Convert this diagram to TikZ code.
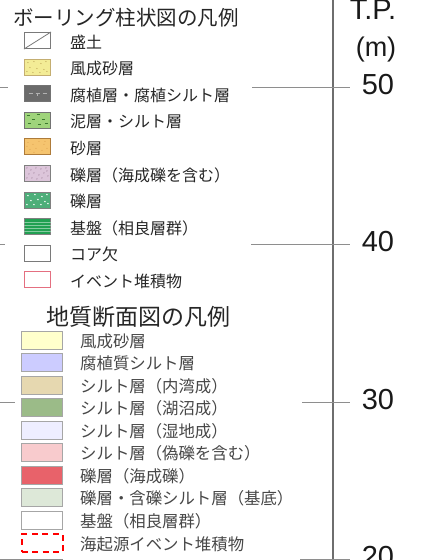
\documentclass[tikz,border=0pt]{standalone}
\usepackage{fontspec}
\setmainfont{Noto Sans CJK JP}
\newfontfamily\axisfont{Liberation Sans}
\usepackage{xcolor}
\usepackage{tikz}

\definecolor{axisgray}{HTML}{6E6E6E}
\definecolor{tickgray}{HTML}{8E8E8E}
\definecolor{textgray}{HTML}{262626}
\definecolor{swgray}{HTML}{7A7A7A}
% boring log colours
\definecolor{fusaY}{HTML}{F3EC96}
\definecolor{fusaDot}{HTML}{B59A4E}
\definecolor{fushokuG}{HTML}{6B6B6B}
\definecolor{deiG}{HTML}{9FD47B}
\definecolor{deiDash}{HTML}{3C7A2E}
\definecolor{saO}{HTML}{F5C46F}
\definecolor{saDot}{HTML}{D99A48}
\definecolor{rekiP}{HTML}{DCC5DA}
\definecolor{rekiPDot}{HTML}{8F6F8C}
\definecolor{rekiG}{HTML}{4DAE79}
\definecolor{kibanG}{HTML}{21A052}
\definecolor{eventR}{HTML}{E46F80}
% section colours
\definecolor{secFusa}{HTML}{FFFFCC}
\definecolor{secFushoku}{HTML}{CCCCFF}
\definecolor{secNaiwan}{HTML}{E6D8B0}
\definecolor{secKosho}{HTML}{9BBB88}
\definecolor{secShitchi}{HTML}{EEEEFF}
\definecolor{secGireki}{HTML}{F8CBCD}
\definecolor{secKaisei}{HTML}{E8626A}
\definecolor{secKitei}{HTML}{DDE8D8}
\definecolor{secBorder}{HTML}{A6A6A6}

\tikzset{
  bswatch/.style={draw=#1, line width=1.1pt, minimum width=26pt, minimum height=16pt, inner sep=0pt},
  sswatch/.style={draw=secBorder, line width=1pt, minimum width=41pt, minimum height=18pt, inner sep=0pt},
  blabel/.style={anchor=west, inner sep=0pt, text=textgray, font=\fontsize{16}{18}\selectfont},
  slabel/.style={anchor=west, inner sep=0pt, text=textgray!85!white, font=\fontsize{16.4}{18}\selectfont},
  axislabel/.style={inner sep=0pt, text=black!90, font=\axisfont\fontsize{29}{31}\selectfont},
  tick/.style={tickgray, line width=0.9pt}
}

\begin{document}
\begin{tikzpicture}[x=1pt, y=-1pt]
    \useasboundingbox (0,0) rectangle (439,560);
    \clip (0,0) rectangle (439,560);

    % Elevation axis
    \draw[axisgray, line width=1.3pt] (333,0) -- (333,560);
    \foreach \ty/\la/\lb in {87/8/252, 244/5/251, 402/15/302, 559/63/300} {
        \draw[tick] (0,\ty) -- (\la,\ty);
        \draw[tick] (\lb,\ty) -- (350,\ty);
    }
    \node[axislabel, anchor=base] (tp) at (373,19) {T.P.};
    \node[axislabel, font=\axisfont\fontsize{27}{29}\selectfont] (unit) at (376,49.5) {(m)};
    \node[axislabel] (el50) at (378,85) {50};
    \node[axislabel] (el40) at (378,242) {40};
    \node[axislabel] (el30) at (378,400) {30};
    \node[axislabel] (el20) at (378,557) {20};

    % Boring log legend
    \node[anchor=west, inner sep=0pt, text=textgray, font=\fontsize{20.5}{22}\selectfont] (btitle) at (13,17.5) {ボーリング柱状図の凡例};

    \node[bswatch=swgray, fill=white] (morido) at (37.5,40.5) {};
    \draw[swgray, line width=0.8pt] (morido.south west) -- (morido.north east);
    \node[blabel] at (70,42) {盛土};

    \node[bswatch=fusaDot!80, fill=fusaY] (fusa) at (37.5,67.1) {};
    \begin{scope}[shift={(fusa.north west)}]
        \foreach \dx/\dy in {4/4, 10/3, 17/5, 22/3, 6/9, 13/10, 20/11, 3/13, 9/14, 16/14, 23/13}
            \fill[fusaDot] (\dx,\dy) circle (0.6);
    \end{scope}
    \node[blabel] at (70,68.6) {風成砂層};

    \node[bswatch=black!55, fill=fushokuG] (fushoku) at (37.5,93.7) {};
    \draw[black!30, line width=0.6pt] ([xshift=-9pt]fushoku.center) -- ++(4,0)
        ([xshift=5pt]fushoku.center) -- ++(4,0)
        ([xshift=-2pt]fushoku.center) -- ++(4,0)
        (fushoku.center) -- ++(0,2.5);
    \node[blabel] at (70,95.2) {腐植層・腐植シルト層};

    \node[bswatch=black!55, fill=deiG] (dei) at (37.5,120.3) {};
    \begin{scope}[shift={(dei.north west)}]
        \foreach \dx/\dy in {3/4, 13/3, 8/8, 18/8, 4/12, 14/13, 21/12}
            \draw[deiDash, line width=0.6pt] (\dx,\dy) -- ++(3,0);
    \end{scope}
    \node[blabel] at (70,121.8) {泥層・シルト層};

    \node[bswatch=saDot!80!black, fill=saO] (sa) at (37.5,146.9) {};
    \begin{scope}[shift={(sa.north west)}]
        \foreach \dx/\dy in {4/4, 9/6, 15/3, 20/6, 6/11, 12/10, 18/12, 23/10, 3/8, 10/14, 21/3}
            \fill[saDot] (\dx,\dy) circle (0.5);
    \end{scope}
    \node[blabel] at (70,148.4) {砂層};

    \node[bswatch=black!50, fill=rekiP] (rekikai) at (37.5,173.5) {};
    \begin{scope}[shift={(rekikai.north west)}]
        \foreach \dx/\dy in {3/3, 7/5, 12/3, 17/4, 22/3, 5/9, 10/8, 15/10, 20/8, 24/11, 3/13, 8/13, 13/14, 18/13, 23/6}
            \fill[rekiPDot] (\dx,\dy) circle (0.55);
    \end{scope}
    \node[blabel] at (70,175) {礫層（海成礫を含む）};

    \node[bswatch=black!50, fill=rekiG] (reki) at (37.5,200.1) {};
    \begin{scope}[shift={(reki.north west)}]
        \foreach \dx/\dy in {4/4, 11/3, 18/5, 23/3, 7/9, 14/8, 21/10, 3/13, 10/13, 17/13, 24/12}
            \fill[white] (\dx,\dy) circle (0.8);
    \end{scope}
    \node[blabel] at (70,201.6) {礫層};

    \node[bswatch=black!50, fill=kibanG] (kiban) at (37.5,226.7) {};
    \foreach \k in {-4.5,-1.5,1.5,4.5}
        \draw[kibanG!55!white, line width=0.4pt] ([yshift=\k pt]kiban.west) -- ([yshift=\k pt]kiban.east);
    \node[blabel] at (70,228.2) {基盤（相良層群）};

    \node[bswatch=swgray, fill=white] (corekake) at (37.5,253.3) {};
    \node[blabel] at (70,254.8) {コア欠};

    \node[bswatch=eventR, fill=white] (event) at (37.5,279.9) {};
    \node[blabel] at (70,281.4) {イベント堆積物};

    % Geological section legend
    \node[anchor=west, inner sep=0pt, text=textgray, font=\fontsize{23}{25}\selectfont] (stitle) at (46,317) {地質断面図の凡例};

    \node[sswatch, fill=secFusa] (sfusa) at (42,340) {};
    \node[slabel] at (80,341) {風成砂層};
    \node[sswatch, fill=secFushoku] (sfushoku) at (42,362.5) {};
    \node[slabel] at (80,363.5) {腐植質シルト層};
    \node[sswatch, fill=secNaiwan] (snaiwan) at (42,385) {};
    \node[slabel] at (80,386) {シルト層（内湾成）};
    \node[sswatch, fill=secKosho] (skosho) at (42,407.5) {};
    \node[slabel] at (80,408.5) {シルト層（湖沼成）};
    \node[sswatch, fill=secShitchi] (sshitchi) at (42,430) {};
    \node[slabel] at (80,431) {シルト層（湿地成）};
    \node[sswatch, fill=secGireki] (sgireki) at (42,452.5) {};
    \node[slabel] at (80,453.5) {シルト層（偽礫を含む）};
    \node[sswatch, fill=secKaisei] (skaisei) at (42,475) {};
    \node[slabel] at (80,476) {礫層（海成礫）};
    \node[sswatch, fill=secKitei] (skitei) at (42,497.5) {};
    \node[slabel] at (80,498.5) {礫層・含礫シルト層（基底）};
    \node[sswatch, fill=white] (skiban) at (42,520) {};
    \node[slabel] at (80,521) {基盤（相良層群）};
    \node[sswatch, draw=red, line width=2pt, dash pattern=on 6pt off 4.5pt, fill=white] (skaikigen) at (42,543) {};
    \node[slabel] at (80,544) {海起源イベント堆積物};
\end{tikzpicture}
\end{document}
